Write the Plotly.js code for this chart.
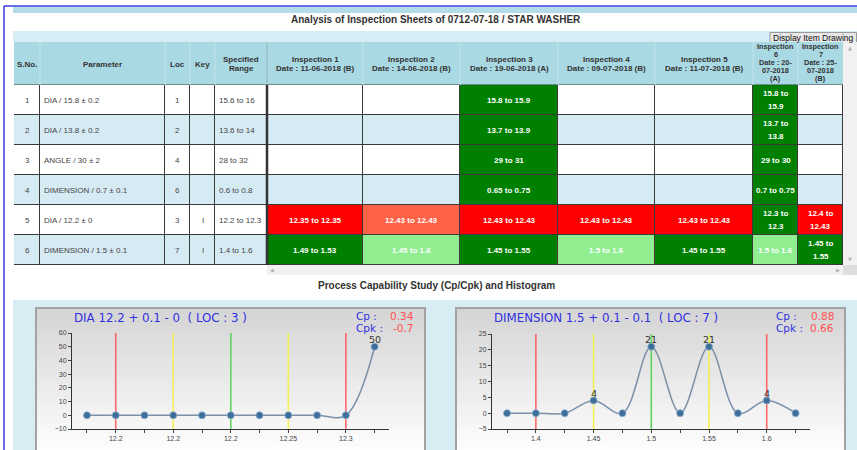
<!DOCTYPE html>
<html><head><meta charset="utf-8">
<script src="https://cdn.plot.ly/plotly-3.0.1.min.js"></script>
<style>html,body{margin:0;padding:0;background:#fff;overflow:hidden}</style>
</head><body><div id="chart" style="width:857px;height:450px"></div>
<script>
// ================= DATA =================
const pageTitle = 'Analysis of Inspection Sheets of 0712-07-18 / STAR WASHER';
const sectionTitle = 'Process Capability Study (Cp/Cpk) and Histogram';
const buttonText = 'Display Item Drawing';

const headers = ['S.No.', 'Parameter', 'Loc', 'Key', 'Specified<br>Range',
  'Inspection 1<br>Date : 11-06-2018 (B)', 'Inspection 2<br>Date : 14-06-2018 (B)',
  'Inspection 3<br>Date : 19-06-2018 (A)', 'Inspection 4<br>Date : 09-07-2018 (B)',
  'Inspection 5<br>Date : 11-07-2018 (B)',
  'Inspection<br>6<br>Date : 20-<br>07-2018<br>(A)', 'Inspection<br>7<br>Date : 25-<br>07-2018<br>(B)'];

const sNo = ['1', '2', '3', '4', '5', '6'];
const parameters = ['DIA / 15.8 ± 0.2', 'DIA / 13.8 ± 0.2', 'ANGLE / 30 ± 2',
  'DIMENSION / 0.7 ± 0.1', 'DIA / 12.2 ± 0', 'DIMENSION / 1.5 ± 0.1'];
const locs = ['1', '2', '4', '6', '3', '7'];
const keys = ['', '', '', '', 'I', 'I'];
const specRanges = ['15.6 to 16', '13.6 to 14', '28 to 32', '0.6 to 0.8', '12.2 to 12.3', '1.4 to 1.6'];

// status: G = ok (green), L = light green, R = out (red), T = tomato
const insp1 = ['', '', '', '', '12.35 to 12.35', '1.49 to 1.53'];
const insp1Status = ['', '', '', '', 'R', 'G'];
const insp2 = ['', '', '', '', '12.43 to 12.43', '1.45 to 1.6'];
const insp2Status = ['', '', '', '', 'T', 'L'];
const insp3 = ['15.8 to 15.9', '13.7 to 13.9', '29 to 31', '0.65 to 0.75', '12.43 to 12.43', '1.45 to 1.55'];
const insp3Status = ['G', 'G', 'G', 'G', 'R', 'G'];
const insp4 = ['', '', '', '', '12.43 to 12.43', '1.5 to 1.6'];
const insp4Status = ['', '', '', '', 'R', 'L'];
const insp5 = ['', '', '', '', '12.43 to 12.43', '1.45 to 1.55'];
const insp5Status = ['', '', '', '', 'R', 'G'];
const insp6 = ['15.8 to<br>15.9', '13.7 to<br>13.8', '29 to 30', '0.7 to 0.75', '12.3 to<br>12.3', '1.5 to 1.6'];
const insp6Status = ['G', 'G', 'G', 'G', 'G', 'L'];
const insp7 = ['', '', '', '', '12.4 to<br>12.43', '1.45 to<br>1.55'];
const insp7Status = ['', '', '', '', 'R', 'G'];

// Histogram 1
const h1Title = 'DIA 12.2 + 0.1 - 0\u00a0 ( LOC : 3 )';
const h1Cp = '0.34', h1Cpk = '-0.7';
const h1TickText = ['', '12.2', '', '12.2', '', '12.2', '', '12.25', '', '12.3', ''];
const h1Counts = [0, 0, 0, 0, 0, 0, 0, 0, 0, 0, 50];
const h1Range = [-10, 60], h1Dtick = 10;

// Histogram 2
const h2Title = 'DIMENSION 1.5 + 0.1 - 0.1\u00a0 ( LOC : 7 )';
const h2Cp = '0.88', h2Cpk = '0.66';
const h2TickText = ['', '1.4', '', '1.45', '', '1.5', '', '1.55', '', '1.6', ''];
const h2Counts = [0, 0, 0, 4, 0, 21, 0, 21, 0, 4, 0];
const h2Range = [-5, 25], h2Dtick = 5;

// limit lines (LSL, -, mean, +, USL) at bin indices
const limitIdx = [1, 3, 5, 7, 9];
const limitKind = ['red', 'yellow', 'green', 'yellow', 'red'];

// ================= STYLE / LAYOUT =================
const W = 857, H = 450;
const px = x => x / W;
const py = y => 1 - y / H;
const TF = 'Liberation Sans, Arial, sans-serif';
const CF = 'DejaVu Sans, Verdana, sans-serif';

const colWidths = [26, 125, 25, 25, 52, 96, 97, 98, 97, 98, 45, 45];
const colAlign = ['center', 'left', 'center', 'center', 'left', 'center', 'center', 'center', 'center', 'center', 'center', 'center'];
const colEdges = [0];
colWidths.forEach(w => colEdges.push(colEdges[colEdges.length - 1] + w));
const headerH = 43, rowH = 30;
const nRows = sNo.length;
const rowEdges = [headerH];
for (let r = 0; r < nRows; r++) rowEdges.push(headerH + (r + 1) * rowH);
const tableW = colEdges[colEdges.length - 1];
const tableH = rowEdges[rowEdges.length - 1];

const columns = [sNo, parameters, locs, keys, specRanges, insp1, insp2, insp3, insp4, insp5, insp6, insp7];
const statuses = [null, null, null, null, null, insp1Status, insp2Status, insp3Status, insp4Status, insp5Status, insp6Status, insp7Status];

const palette = ['#ffffff', '#d6eaf4', '#008000', '#90ee90', '#ff0000', '#ff6347'];
const codeOf = {G: 2, L: 3, R: 4, T: 5};
const cs = [];
palette.forEach((c, i) => { cs.push([i / palette.length, c]); cs.push([(i + 1) / palette.length, c]); });

const z = [];
for (let r = 0; r < nRows; r++) {
  const row = [];
  for (let c = 0; c < columns.length; c++) {
    const st = statuses[c] ? statuses[c][r] : '';
    row.push(st ? codeOf[st] : (r % 2));
  }
  z.push(row);
}

const annotations = [];
const shapes = [];

function addLines(text, xc, yc, gap, font, anchor) {
  const lines = text.split('<br>');
  const n = lines.length;
  lines.forEach((t, k) => {
    annotations.push({xref: 'x3', yref: 'y3', x: xc, y: yc + (k - (n - 1) / 2) * gap,
      text: t, showarrow: false, xanchor: anchor, yanchor: 'middle', font: font});
  });
}

// header text
headers.forEach((h, c) => {
  const n = h.split('<br>').length;
  const tall = n > 3;
  const gap = tall ? 8.1 : 9;
  const yc = tall ? headerH / 2 - 1 : headerH / 2 + 0.5;
  addLines('<b>' + h.split('<br>').join('</b><br><b>') + '</b>', (colEdges[c] + colEdges[c + 1]) / 2, yc, gap,
    {family: TF, size: tall ? 7.3 : 8, color: '#333'}, 'center');
});
// cell text
columns.forEach((col, c) => {
  col.forEach((v, r) => {
    if (!v) return;
    const st = statuses[c] ? statuses[c][r] : '';
    const yc = (rowEdges[r] + rowEdges[r + 1]) / 2;
    const left = colAlign[c] === 'left';
    const xc = left ? colEdges[c] + 2 : (colEdges[c] + colEdges[c + 1]) / 2;
    const font = st ? {family: TF, size: 8, color: '#ffffff'} : {family: TF, size: 8, color: '#444'};
    const txt = st ? '<b>' + v.split('<br>').join('</b><br><b>') + '</b>' : v;
    addLines(txt, xc, yc, 13.5, font, left ? 'left' : 'center');
  });
});

// ---------- page decoration shapes ----------
function rectP(x0, y0, x1, y1, fill, line, layer) {
  shapes.push({type: 'rect', xref: 'paper', yref: 'paper', x0: px(x0), x1: px(x1), y0: py(y1), y1: py(y0),
    fillcolor: fill, line: line || {width: 0}, layer: layer || 'below'});
}
rectP(13, 7, 857, 13, '#b3dce9');
rectP(13, 31, 857, 42, '#d5edf4');
rectP(13, 300, 857, 452, '#d8ecf3');
// button
rectP(770, 32.5, 856.5, 42.5, '#e8e8e8', {color: '#9a9a9a', width: 1});
annotations.push({xref: 'paper', yref: 'paper', x: px(813), y: py(37.5), text: buttonText, showarrow: false,
  xanchor: 'center', yanchor: 'middle', font: {family: TF, size: 8.5, color: '#111'}});
// scrollbars
rectP(843, 42, 857, 265, '#f1f1f1');
rectP(267, 265, 843, 275, '#f1f1f1');
rectP(843, 265, 857, 275, '#dddddd');
[['▲', 850, 48], ['▼', 850, 259], ['◀', 272, 270], ['▶', 838, 270]].forEach(a => {
  annotations.push({xref: 'paper', yref: 'paper', x: px(a[1]), y: py(a[2]), text: a[0], showarrow: false,
    xanchor: 'center', yanchor: 'middle', font: {family: CF, size: 5, color: '#b0b0b0'}});
});
// titles
annotations.push({xref: 'paper', yref: 'paper', x: px(436), y: py(20), text: '<b>' + pageTitle + '</b>', showarrow: false,
  xanchor: 'center', yanchor: 'middle', font: {family: TF, size: 10, color: '#333'}});
annotations.push({xref: 'paper', yref: 'paper', x: px(436), y: py(285), text: '<b>' + sectionTitle + '</b>', showarrow: false,
  xanchor: 'center', yanchor: 'middle', font: {family: TF, size: 10, color: '#333'}});

// table frame / header
shapes.push({type: 'rect', xref: 'x3', yref: 'y3', x0: 0, x1: tableW, y0: 0, y1: headerH, fillcolor: '#a9d9e3', line: {width: 0}, layer: 'below'});
shapes.push({type: 'rect', xref: 'x3', yref: 'y3', x0: -0.5, x1: tableW + 0.5, y0: headerH - 0.5, y1: tableH + 0.5, fillcolor: '#3a3a3a', line: {width: 0}, layer: 'below'});
colEdges.slice(1, -1).forEach((e, i) => {
  shapes.push({type: 'line', xref: 'x3', yref: 'y3', x0: e, x1: e, y0: 0, y1: headerH,
    line: {color: i === 4 ? '#93b4bc' : '#c2e3ea', width: 1}, layer: 'above'});
});
shapes.push({type: 'line', xref: 'x3', yref: 'y3', x0: colEdges[5], x1: colEdges[5], y0: headerH, y1: tableH,
  line: {color: '#333', width: 2.5}, layer: 'above'});

// chart panels with gradient
function panel(x0, x1) {
  const N = 24, top = 308, bot = 452;
  for (let i = 0; i < N; i++) {
    const t = i / (N - 1);
    const v = Math.round(213 + (253 - 213) * t);
    rectP(x0, top + i * (bot - top) / N, x1, top + (i + 1) * (bot - top) / N + 0.5, `rgb(${v},${v},${v})`);
  }
  rectP(x0, top, x1, bot, 'rgba(0,0,0,0)', {color: '#a3a3a3', width: 2});
}
panel(36, 425);
panel(456, 845);

const limitColor = {red: 'rgba(255,80,80,0.85)', yellow: 'rgba(245,240,70,0.9)', green: 'rgba(80,210,80,0.9)'};
['x', 'x2'].forEach((xa, k) => {
  limitIdx.forEach((ix, i) => {
    shapes.push({type: 'line', xref: xa, yref: (k ? 'y2' : 'y') + ' domain', x0: ix, x1: ix, y0: 0, y1: 1,
      line: {color: limitColor[limitKind[i]], width: 1.6}, layer: 'below'});
  });
});

function chartText(x0, xr, title, cp, cpk) {
  const yCp = 316, yCpk = 328;
  annotations.push({xref: 'paper', yref: 'paper', x: px(x0), y: py(318), text: title, showarrow: false,
    xanchor: 'left', yanchor: 'middle', font: {family: CF, size: 11.8, color: '#3030e0'}});
  annotations.push({xref: 'paper', yref: 'paper', x: px(xr - 62), y: py(yCp), text: 'Cp :', showarrow: false,
    xanchor: 'left', yanchor: 'middle', font: {family: CF, size: 10.5, color: '#3030e0'}});
  annotations.push({xref: 'paper', yref: 'paper', x: px(xr - 62), y: py(yCpk), text: 'Cpk :', showarrow: false,
    xanchor: 'left', yanchor: 'middle', font: {family: CF, size: 10.5, color: '#3030e0'}});
  annotations.push({xref: 'paper', yref: 'paper', x: px(xr), y: py(yCp), text: cp, showarrow: false,
    xanchor: 'right', yanchor: 'middle', font: {family: CF, size: 10.5, color: '#ff5050'}});
  annotations.push({xref: 'paper', yref: 'paper', x: px(xr), y: py(yCpk), text: cpk, showarrow: false,
    xanchor: 'right', yanchor: 'middle', font: {family: CF, size: 10.5, color: '#ff5050'}});
}
chartText(72, 416, h1Title, h1Cp, h1Cpk);
chartText(492, 836, h2Title, h2Cp, h2Cpk);

// data labels above non-zero bins
[[h1Counts, 'x', 'y'], [h2Counts, 'x2', 'y2']].forEach(([counts, xa, ya]) => {
  counts.forEach((v, i) => {
    if (v > 0) annotations.push({xref: xa, yref: ya, x: i, y: v, yshift: 7, text: String(v), showarrow: false,
      xanchor: 'center', yanchor: 'middle', font: {family: CF, size: 9.5, color: '#333'}});
  });
});

// ================= TRACES =================
const idx1 = h1Counts.map((_, i) => i);
const idx2 = h2Counts.map((_, i) => i);
function histTrace(xs, ys, xa, ya) {
  return {type: 'scatter', mode: 'lines+markers', x: xs, y: ys, xaxis: xa, yaxis: ya,
    line: {color: '#7a8fa8', width: 1.5, shape: 'spline', smoothing: 1},
    marker: {color: '#3d6d98', size: 7, line: {color: 'rgba(140,175,210,0.8)', width: 1}},
    hoverinfo: 'skip', showlegend: false};
}

const traces = [
  {type: 'heatmap', x: colEdges, y: rowEdges, z: z, xaxis: 'x3', yaxis: 'y3', colorscale: cs,
    zmin: -0.5, zmax: palette.length - 0.5, showscale: false, xgap: 1, ygap: 1, hoverinfo: 'skip'},
  histTrace(idx1, h1Counts, 'x', 'y'),
  histTrace(idx2, h2Counts, 'x2', 'y2')
];

function xAxis(domain, ticktext, n, anchor) {
  return {domain: domain, anchor: anchor, range: [-0.52, n - 1 + 0.5], tickmode: 'array',
    tickvals: ticktext.map((_, i) => i), ticktext: ticktext, ticks: 'outside', ticklen: 3, tickcolor: '#444',
    showline: true, linecolor: '#333', linewidth: 1, showgrid: false, zeroline: false,
    tickfont: {family: TF, size: 7, color: '#444'}, fixedrange: true};
}
function yAxis(domain, range, dtick, anchor) {
  return {domain: domain, anchor: anchor, range: range, dtick: dtick, ticks: 'outside', ticklen: 3, tickcolor: '#444',
    showline: true, linecolor: '#333', linewidth: 1, showgrid: false, zeroline: false,
    tickfont: {family: TF, size: 7, color: '#444'}, fixedrange: true};
}

const layout = {
  width: W, height: H, margin: {l: 0, r: 0, t: 0, b: 0},
  paper_bgcolor: '#ffffff', plot_bgcolor: 'rgba(0,0,0,0)', showlegend: false,
  xaxis: xAxis([px(72), px(389)], h1TickText, h1Counts.length, 'y'),
  yaxis: yAxis([py(429), py(333)], h1Range, h1Dtick, 'x'),
  xaxis2: xAxis([px(492), px(810)], h2TickText, h2Counts.length, 'y2'),
  yaxis2: yAxis([py(429), py(334)], h2Range, h2Dtick, 'x2'),
  xaxis3: {domain: [px(14), px(843)], range: [0, tableW], visible: false, anchor: 'y3', fixedrange: true},
  yaxis3: {domain: [py(42 + tableH), py(42)], range: [tableH, 0], visible: false, anchor: 'x3', fixedrange: true},
  shapes: shapes.concat([
    {type: 'line', xref: 'paper', yref: 'paper', x0: px(4), x1: px(857), y0: py(6), y1: py(6), line: {color: '#3a3adc', width: 1.5}},
    {type: 'line', xref: 'paper', yref: 'paper', x0: px(4), x1: px(4), y0: py(6), y1: py(451), line: {color: '#3a3adc', width: 1.5}}
  ]),
  annotations: annotations
};

Plotly.newPlot('chart', traces, layout, {staticPlot: true, displayModeBar: false});
</script>
</body></html>
